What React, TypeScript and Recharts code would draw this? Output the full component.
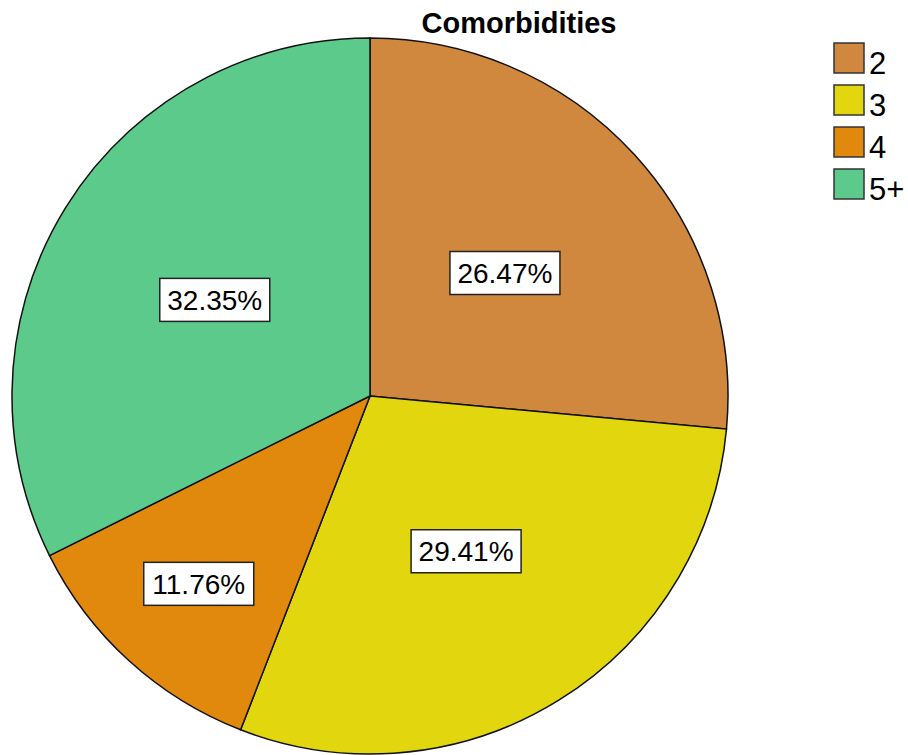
import React from 'react';
import { PieChart, Pie, Cell, Legend } from 'recharts';

const categories = ['2', '3', '4', '5+'];
const percents = [26.47, 29.41, 11.76, 32.35];
const colors = ['#D0883F', '#E2D60F', '#E0890D', '#5BCA8A'];

const data = categories.map((name, i) => ({ name, value: percents[i] }));

const RADIAN = Math.PI / 180;
const FONT = 'Liberation Sans, Arial, sans-serif';

function renderLabel(props: any) {
  const { cx, cy, midAngle, outerRadius, value, percent } = props;
  // small slices get their label pushed outward, like the SPSS output
  const r = outerRadius * (percent < 0.15 ? 0.71 : 0.51);
  const x = cx + r * Math.cos(-midAngle * RADIAN);
  const y = cy + r * Math.sin(-midAngle * RADIAN);
  const w = 110;
  const h = 43;
  return (
    <g>
      <rect x={x - w / 2} y={y - h / 2} width={w} height={h} fill="#fff" stroke="#222" strokeWidth={1.5} />
      <text x={x} y={y + 10} textAnchor="middle" fontFamily={FONT} fontSize={28} fill="#000">
        {`${value.toFixed(2)}%`}
      </text>
    </g>
  );
}

function LegendBox() {
  return (
    <svg width={76} height={180} style={{ display: 'block' }}>
      {data.map((d, i) => (
        <g key={d.name}>
          <rect x={1} y={1 + i * 42} width={30} height={30} fill={colors[i]} stroke="#333" strokeWidth={1.5} />
          <text x={36} y={32 + i * 42} fontFamily={FONT} fontSize={31} fill="#000">
            {d.name}
          </text>
        </g>
      ))}
    </svg>
  );
}

export default function App() {
  return (
    <div style={{ position: 'absolute', left: 0, top: 0, width: 908, height: 755, background: '#fff' }}>
      <PieChart
        width={908}
        height={755}
        margin={{ top: 0, right: 0, bottom: 0, left: 0 }}
        style={{ position: 'absolute', left: 0, top: 0 }}
      >
        <Pie
          data={data}
          dataKey="value"
          nameKey="name"
          cx={370}
          cy={396}
          outerRadius={358}
          startAngle={90}
          endAngle={-270}
          stroke="#111"
          strokeWidth={1.5}
          label={renderLabel}
          labelLine={false}
          isAnimationActive={false}
        >
          {data.map((d, i) => (
            <Cell key={d.name} fill={colors[i]} />
          ))}
        </Pie>
        <Legend
          layout="vertical"
          align="right"
          verticalAlign="top"
          wrapperStyle={{ left: 833, top: 42, width: 76 }}
          content={() => <LegendBox />}
        />
      </PieChart>
      <svg width={908} height={50} style={{ position: 'absolute', left: 0, top: 0, pointerEvents: 'none' }}>
        <text x={519} y={33} textAnchor="middle" fontFamily={FONT} fontWeight="bold" fontSize={29} fill="#000">
          Comorbidities
        </text>
      </svg>
    </div>
  );
}
